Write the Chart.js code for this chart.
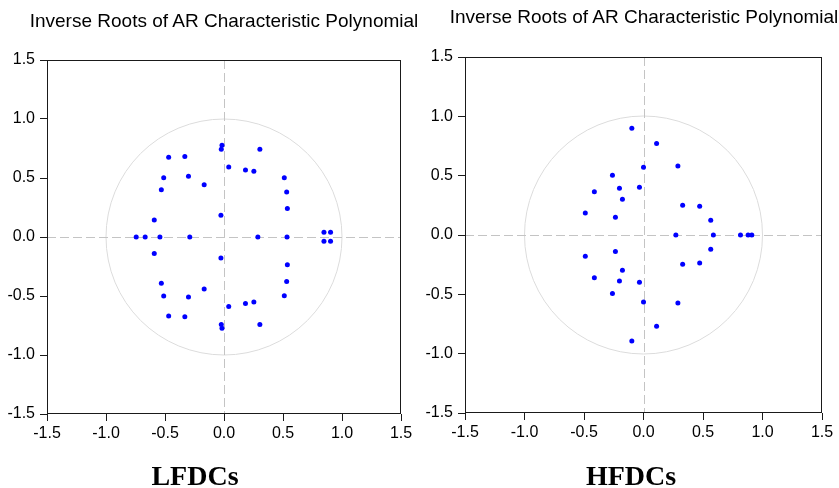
<!DOCTYPE html>
<html>
<head>
<meta charset="utf-8">
<script src="https://cdn.jsdelivr.net/npm/chart.js@4/dist/chart.umd.min.js"></script>
<style>
  html, body { margin: 0; padding: 0; background: #fff; }
  #wrap { position: relative; width: 839px; height: 488px; overflow: hidden; background: #fff; }
  canvas { position: absolute; top: 0; }
  .title { position: absolute; font-family: "Liberation Sans", Arial, sans-serif; font-size: 19px; line-height: 19px; color: #000; white-space: nowrap; transform: translateX(-50%); }
  .label { position: absolute; font-family: "Liberation Serif", "Times New Roman", serif; font-weight: bold; font-size: 28px; line-height: 28px; color: #000; white-space: nowrap; transform: translateX(-50%); }
</style>
</head>
<body>
<div id="wrap">
  <canvas id="c1" width="420" height="488" style="left:0px"></canvas>
  <canvas id="c2" width="419" height="488" style="left:420px"></canvas>
  <div class="title" style="left:224px; top:11px;">Inverse Roots of AR Characteristic Polynomial</div>
  <div class="title" style="left:644px; top:7px;">Inverse Roots of AR Characteristic Polynomial</div>
  <div class="label" style="left:195px; top:462px;">LFDCs</div>
  <div class="label" style="left:631px; top:462px;">HFDCs</div>
</div>
<script>
// ---- data (real and imaginary parts of inverse roots) ----
const panelNames = ["LFDCs", "HFDCs"];
const tickValues = [-1.5, -1.0, -0.5, 0.0, 0.5, 1.0, 1.5];
const tickLabels = ["-1.5", "-1.0", "-0.5", "0.0", "0.5", "1.0", "1.5"];

const lfdcRe = [
  -0.744, -0.668, -0.543, -0.290, 0.287, 0.534,
  0.847, 0.847, 0.903, 0.903,
  -0.591, -0.531, -0.511, -0.469, -0.332, -0.301, -0.168, -0.026, -0.017, -0.023,
  0.040, 0.182, 0.253, 0.304, 0.511, 0.531, 0.537,
  -0.591, -0.531, -0.511, -0.469, -0.332, -0.301, -0.168, -0.026, -0.017, -0.023,
  0.040, 0.182, 0.253, 0.304, 0.511, 0.531, 0.537
];
const lfdcIm = [
  0, 0, 0, 0, 0, 0,
  0.040, -0.036, 0.040, -0.036,
  0.145, 0.400, 0.503, 0.676, 0.682, 0.514, 0.443, 0.185, 0.778, 0.744,
  0.594, 0.568, 0.557, 0.744, 0.503, 0.381, 0.241,
  -0.139, -0.392, -0.500, -0.670, -0.676, -0.509, -0.440, -0.179, -0.773, -0.741,
  -0.588, -0.563, -0.551, -0.741, -0.497, -0.378, -0.236
];

const hfdcRe = [
  0.272, 0.587, 0.815, 0.879, 0.910,
  -0.098, 0.110, 0.289, 0.000, -0.261, -0.413, -0.202, -0.034, -0.177, -0.489, -0.236, 0.329, 0.472, 0.565,
  -0.098, 0.110, 0.289, 0.000, -0.261, -0.413, -0.202, -0.034, -0.177, -0.489, -0.236, 0.329, 0.472, 0.565
];
const hfdcIm = [
  0, 0, 0, 0, 0,
  0.899, 0.772, 0.581, 0.570, 0.503, 0.365, 0.393, 0.402, 0.301, 0.185, 0.149, 0.250, 0.242, 0.124,
  -0.893, -0.770, -0.573, -0.565, -0.494, -0.360, -0.388, -0.399, -0.298, -0.180, -0.140, -0.247, -0.236, -0.121
];

// ---- helpers ----
function toPoints(re, im) { return re.map((r, i) => ({ x: r, y: im[i] })); }

const decorPlugin = {
  id: 'decor',
  beforeDatasetsDraw(chart) {
    const { ctx, chartArea: a, scales: { x, y } } = chart;
    const x0 = Math.round(x.getPixelForValue(0)) + 0.5;
    const y0 = Math.round(y.getPixelForValue(0)) + 0.5;
    ctx.save();
    // unit circle
    const cx = x.getPixelForValue(0), cy = y.getPixelForValue(0);
    const rx = x.getPixelForValue(1) - cx;
    ctx.strokeStyle = '#dcdcdc';
    ctx.lineWidth = 1;
    ctx.beginPath();
    ctx.arc(cx, cy, rx, 0, Math.PI * 2);
    ctx.stroke();
    // zero lines
    ctx.strokeStyle = '#c4c4c4';
    ctx.setLineDash([9, 4]);
    ctx.beginPath();
    ctx.moveTo(a.left, y0); ctx.lineTo(a.right, y0);
    ctx.moveTo(x0, a.top); ctx.lineTo(x0, a.bottom);
    ctx.stroke();
    ctx.restore();
  },
  afterDraw(chart) {
    const { ctx, chartArea: a } = chart;
    ctx.save();
    ctx.strokeStyle = '#1a1a1a';
    ctx.lineWidth = 1;
    ctx.strokeRect(Math.round(a.left) + 0.5, Math.round(a.top) + 0.5,
      Math.round(a.right - a.left) - 1, Math.round(a.bottom - a.top) - 1);
    ctx.restore();
  }
};

function makeChart(id, re, im, yAxisWidth, pad, name) {
  const tickFont = { family: '"Liberation Sans", Arial, sans-serif', size: 16 };
  const axisCommon = {
    type: 'linear',
    min: -1.5, max: 1.5,
    afterBuildTicks: s => { s.ticks = tickValues.map(v => ({ value: v })); },
    ticks: {
      color: '#000',
      font: tickFont,
      callback: (v) => { const i = tickValues.findIndex(t => Math.abs(t - v) < 1e-9); return i >= 0 ? tickLabels[i] : ''; }
    },
    grid: { drawOnChartArea: false, drawTicks: true, tickLength: 7, tickColor: '#1a1a1a', tickWidth: 1, color: '#1a1a1a' },
    border: { display: false }
  };
  return new Chart(document.getElementById(id), {
    type: 'scatter',
    data: {
      datasets: [{
        label: name,
        data: toPoints(re, im),
        backgroundColor: '#0000ff',
        borderColor: '#0000ff',
        borderWidth: 0,
        pointRadius: 2.5,
        pointHoverRadius: 2.5
      }]
    },
    options: {
      responsive: false,
      animation: false,
      devicePixelRatio: 1,
      layout: { padding: pad },
      plugins: { legend: { display: false }, tooltip: { enabled: false }, title: { display: false } },
      scales: {
        x: Object.assign({}, axisCommon, {
          position: 'bottom',
          afterFit: s => { s.height = 40; },
          ticks: Object.assign({}, axisCommon.ticks, { padding: 3, maxRotation: 0, autoSkip: false })
        }),
        y: Object.assign({}, axisCommon, {
          position: 'left',
          afterFit: s => { s.width = yAxisWidth; },
          ticks: Object.assign({}, axisCommon.ticks, { padding: 5, autoSkip: false })
        })
      }
    },
    plugins: [decorPlugin]
  });
}

makeChart('c1', lfdcRe, lfdcIm, 47, { left: 0, right: 19, top: 60, bottom: 34 }, panelNames[0]);
makeChart('c2', hfdcRe, hfdcIm, 45, { left: 0, right: 17, top: 57, bottom: 35 }, panelNames[1]);
</script>
</body>
</html>
